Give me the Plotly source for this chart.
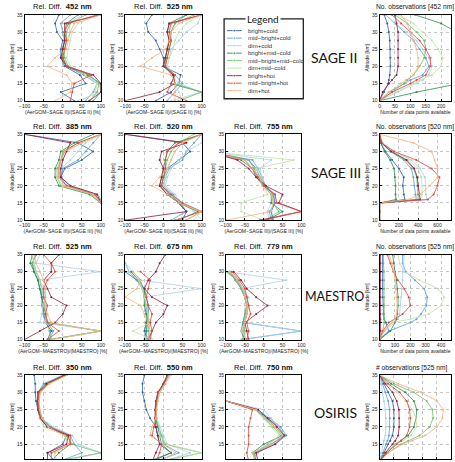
import plotly.graph_objects as go

W, H = 455, 462

# ---------------- series ----------------
series_names = ["bright+cold", "mid\u2212bright+cold", "dim+cold",
                "bright+mid\u2212cold", "mid\u2212bright+mid\u2212cold", "dim+mid\u2212cold",
                "bright+hot", "mid\u2212bright+hot", "dim+hot"]
series_colors = ["#2a5fa5", "#5aa0d2", "#a9d0e8",
                 "#2e8b4a", "#6cbf6a", "#bfe2a8",
                 "#8e1b3c", "#e0453a", "#f6b07a"]

# altitude levels [km]
alt_rd = [10, 12.5, 15, 17.5, 20, 22.5, 25, 27.5, 30, 32.5, 35]
alt_obs = [10, 12.5, 15, 16, 17.5, 20, 22.5, 25, 27.5, 30, 32.5, 35]

# ---------------- relative differences [%] ----------------
sage2_452 = [
    [30, -5, 60, 45, 5, -5, -5, 0, -15, -20, -10],
    [60, 80, 90, 55, 10, -5, 0, 5, 0, -5, 20],
    [40, 100, 95, 60, 15, 0, 5, 10, 20, 15, 50],
    [80, 100, 100, 65, 10, 0, 0, 5, 5, 10, 40],
    [70, 90, 95, 70, 15, 5, 5, 10, 10, 20, 60],
    [50, 85, 90, 60, 20, 10, 15, 20, 25, 40, 90],
    [70, 100, 100, 80, 10, -5, 0, 5, 5, 5, 100],
    [20, 25, 30, 75, 10, 0, 5, 10, 5, 15, 90],
    [-20, 20, 25, 10, -40, -20, 10, 15, 20, 30, 100],
]
sage2_525 = [
    [-20, 20, 40, 45, 0, 0, -10, -20, -40, -45, -30],
    [10, 30, 50, 30, 5, 5, 10, 15, 20, 30, 60],
    [20, 100, 40, 20, 10, 15, 20, 40, 60, 90, 100],
    [100, 100, 20, 30, 0, 5, 10, 15, 10, 15, 60],
    [40, 100, 30, 25, 5, 10, 15, 20, 20, 30, 80],
    [50, 40, 30, 30, 10, 15, 25, 30, 40, 60, 100],
    [-100, -10, 30, 25, 0, 5, 10, 15, 10, 15, 100],
    [60, 10, 20, 30, 5, 10, 15, 20, 15, 20, 100],
    [30, 30, 30, 20, -60, -30, 5, 15, 20, 40, 100],
]
sage3_385 = [
    [150, 150, 110, 80, 10, -5, 5, 50, 80, 40, -100],
    [150, 150, 110, 90, 20, -5, 0, 40, 60, 80, 100],
    [150, 150, 100, 85, 15, -10, -5, 20, 40, 60, 100],
    [150, 140, 100, 70, -10, -20, -20, -10, -5, 30, 80],
    [150, 140, 100, 75, -5, -15, -15, -5, 0, 40, 100],
    [150, 140, 100, 80, 0, -15, -10, 0, 10, 50, 100],
    [150, 150, 100, 90, 20, -5, -5, 0, 10, 20, -100],
    [150, 140, 100, 85, 10, -10, -10, -5, 5, 40, 100],
    [150, 140, 100, 80, 5, -10, -10, -5, 5, 50, 100],
]
sage3_520 = [
    [50, 60, 40, 20, -5, 0, 10, 40, 70, 50, -100],
    [20, 60, 45, 25, 0, 5, 15, 50, 60, 80, 100],
    [100, 80, 50, 30, 5, 10, 20, 40, 60, 100, 100],
    [40, 90, 40, 10, -10, -5, 0, 5, 10, 30, 100],
    [60, 100, 45, 15, -5, 0, 5, 10, 20, 40, 80],
    [80, 100, 50, 20, 0, 5, 10, 20, 30, 50, 100],
    [-100, 60, 40, 10, -10, -5, 0, -10, -5, 60, -100],
    [30, 100, 50, 20, -5, 0, 5, 5, 10, 40, 100],
    [60, 100, 40, 10, -30, -10, 10, 20, 30, 50, 100],
]
sage3_755 = [
    [25, 20, 30, 25, 5, -10, -20, -40, -150, None, None],
    [20, 15, 30, 30, 5, -5, -15, -30, -150, None, None],
    [15, 10, 20, 25, 0, -5, -10, 20, -150, None, None],
    [10, 50, 20, 20, 0, -20, -30, -60, -150, None, None],
    [5, 40, 25, 25, 5, -15, -25, -40, -150, None, None],
    [0, -60, -60, 10, 0, -10, -20, 80, -150, None, None],
    [-10, 100, 40, 50, 5, -20, -40, -70, -150, None, None],
    [0, 100, 35, 30, 0, -15, -30, -50, -150, None, None],
    [-100, 20, 25, 20, -5, -10, -30, -50, -150, None, None],
]
maestro_525 = [
    [-40, -30, -45, -50, -50, -55, -60, -65, -75, -80, -70],
    [-35, -25, -40, -50, -55, -55, -55, -60, -70, -75, -80],
    [-30, 100, -60, -55, -50, -45, -50, -60, 100, -70, -60],
    [-35, 100, -40, -45, -50, -55, -60, -65, -75, -85, -80],
    [-30, -35, -40, -45, -45, -50, -55, -60, -70, -80, -70],
    [-25, 100, -45, -40, -45, -50, -55, -60, -70, -75, -80],
    [-100, -60, -20, 0, 10, -30, -40, -50, -30, -30, -10],
    [-40, -10, -40, -45, -40, -50, -50, -40, -20, -30, -50],
    [-30, 100, -30, -40, -50, -45, -45, -50, -60, -70, -75],
]
maestro_675 = [
    [-40, -50, -45, -40, -40, -45, -50, -70, -100, None, None],
    [-45, -45, -40, -45, -45, -50, -55, -70, -90, -100, None],
    [-30, -40, -35, -45, -50, -50, 100, -60, -80, -100, None],
    [-50, -45, -45, -45, -50, -50, -50, -65, -85, None, None],
    [-40, -40, -40, -40, -45, -50, -55, -60, -80, None, None],
    [-30, -80, -35, -40, -45, -50, -55, -65, -90, None, None],
    [-40, -30, -20, 0, 10, -30, -50, -40, -20, -10, 5],
    [-35, -30, -35, -30, -40, -45, -40, -35, -60, None, None],
    [-40, -35, -40, -50, -60, -100, -70, -60, -80, None, None],
]
maestro_779 = [
    [-50, -60, -55, -50, -45, -50, -60, -75, -90, None, None],
    [-60, 100, -55, -45, -45, -50, -60, -70, -100, None, None],
    [-50, 100, -50, -50, -50, -40, -60, 60, -100, None, None],
    [-55, -55, -50, -45, -40, -45, -55, -70, -90, None, None],
    [-50, -50, -55, -50, -45, -50, -60, -75, -95, None, None],
    [-45, -60, -50, -45, -40, -45, -55, -70, -90, None, None],
    [-40, -45, -50, -20, 10, -20, -45, -60, -80, None, None],
    [-45, -40, -45, -35, -40, -45, -50, -65, -85, None, None],
    [-50, -55, -50, -45, -45, -50, -55, -70, -90, None, None],
]
osiris_350 = [
    [-20, -40, 0, 10, -40, -60, -65, -70, -72, -72, -75],
    [-10, 50, 30, 20, -30, -55, -62, -65, -65, -50, 0],
    [0, 100, 40, 25, -25, -55, -60, -62, -60, -40, 10],
    [-30, -10, 20, 15, -40, -58, -65, -66, -65, -45, 5],
    [-20, 100, 25, 10, -35, -55, -62, -64, -62, -40, 8],
    [-10, -30, 15, 5, -50, -60, -62, -64, -60, -38, 10],
    [-40, -40, 10, 15, -40, -58, -64, -66, -64, -42, 5],
    [-30, -30, 20, 20, -35, -56, -62, -64, -62, -38, 8],
    [-20, -20, 15, 5, -38, -55, -60, -62, -58, -35, 12],
]
osiris_550 = [
    [-30, 20, -10, -15, -20, -35, -45, -50, -55, -55, -50],
    [-20, 40, 0, -5, -15, -20, -20, -18, -12, 0, 15],
    [0, 70, 10, 0, -10, -18, -18, -15, -10, 5, 20],
    [-40, 20, -5, -10, -15, -20, -20, -18, -14, 0, 10],
    [-10, 100, 5, -5, -12, -20, -20, -18, -13, 2, 15],
    [0, 100, 10, -10, -10, -18, -18, -15, -10, 5, 18],
    [-30, -20, -10, -15, -20, -22, -22, -20, -15, 0, 10],
    [-20, -10, -5, -30, -25, -20, -20, -18, -14, 2, 12],
    [-10, 30, 0, -35, -30, -20, -18, -15, -10, 5, 15],
]
osiris_750 = [
    [-20, -25, 20, 55, 40, 10, -20, -100, None, None, None],
    [-25, -20, 30, 60, 45, 15, -15, -100, None, None, None],
    [-30, -15, 25, 55, 40, 20, 0, -100, None, None, None],
    [-20, -30, 0, 50, 30, 5, -20, -100, None, None, None],
    [-25, -25, 10, 45, 25, 0, -20, -100, None, None, None],
    [-30, -20, 15, 40, 20, 0, -25, -100, None, None, None],
    [-15, -20, 30, 55, 35, 10, -15, -100, None, None, None],
    [-40, -45, -40, -40, -40, -35, -30, -100, None, None, None],
    [-20, -30, 20, 50, 30, 5, -20, -100, None, None, None],
]

# ---------------- number of observations ----------------
obs_sage2 = [
    [0, 15, 28, 30, 33, 35, 35, 35, 33, 30, 25, 15],
    [0, 30, 80, 100, 140, 160, 150, 130, 110, 80, 50, 20],
    [0, 60, 120, 140, 160, 170, 160, 140, 120, 90, 50, 20],
    [0, 120, 260, 280, 300, 320, 320, 300, 280, 250, 200, 115],
    [0, 40, 80, 90, 110, 130, 145, 150, 145, 120, 90, 50],
    [0, 50, 110, 130, 170, 200, 205, 190, 170, 140, 110, 60],
    [0, 10, 30, 40, 55, 60, 60, 60, 60, 60, 55, 50],
    [0, 40, 100, 120, 150, 165, 165, 150, 130, 100, 70, 40],
    [0, 30, 70, 85, 110, 125, 125, 120, 110, 100, 90, 70],
]
obs_sage3 = [
    [0, 0, 0, 260, 250, 240, 250, 200, 130, 60, 10, 0],
    [0, 0, 0, 380, 370, 360, 350, 330, 250, 110, 20, 0],
    [0, 0, 0, 490, 480, 475, 470, 420, 330, 150, 30, 0],
    [0, 0, 0, 170, 165, 165, 160, 150, 110, 50, 10, 0],
    [0, 0, 0, 400, 395, 390, 385, 350, 270, 120, 20, 0],
    [0, 0, 0, 420, 440, 440, 430, 400, 300, 130, 25, 0],
    [0, 0, 0, 420, 410, 400, 390, 360, 280, 120, 20, 0],
    [0, 0, 0, 500, 560, 600, 620, 540, 380, 150, 20, 0],
    [0, 0, 0, 300, 420, 520, 600, 600, 570, 540, 350, 0],
]
obs_maestro = [
    [0, 60, 40, 30, 25, 22, 20, 20, 20, 20, 20, 20],
    [0, 60, 200, 240, 270, 305, 310, 290, 230, 170, 150, 150],
    [0, 30, 100, 120, 130, 135, 140, 145, 150, 150, 155, 160],
    [0, 70, 100, 110, 115, 120, 120, 115, 110, 100, 90, 85],
    [0, 20, 30, 30, 30, 30, 30, 30, 30, 28, 25, 25],
    [0, 20, 80, 200, 320, 400, 420, 380, 260, 160, 130, 120],
    [0, 5, 5, 5, 5, 5, 5, 5, 5, 5, 5, 5],
    [0, 20, 60, 100, 150, 200, 190, 160, 120, 90, 70, 50],
    [0, 30, 80, 100, 110, 115, 110, 105, 100, 95, 80, 60],
]
obs_osiris = [
    [0, 30, 60, 75, 90, 100, 100, 100, 90, 60, 25, 0],
    [0, 20, 45, 55, 65, 70, 72, 70, 60, 40, 15, 0],
    [0, 10, 25, 30, 40, 45, 45, 40, 30, 20, 10, 0],
    [0, 50, 110, 150, 200, 240, 255, 260, 240, 180, 80, 0],
    [0, 60, 150, 200, 280, 350, 375, 370, 330, 240, 100, 0],
    [0, 40, 110, 160, 220, 260, 255, 230, 180, 120, 50, 0],
    [0, 40, 90, 110, 130, 137, 137, 135, 120, 90, 40, 0],
    [0, 50, 120, 150, 190, 210, 215, 210, 190, 140, 60, 0],
    [0, 60, 160, 230, 320, 400, 440, 445, 400, 290, 130, 0],
]

instruments = ["SAGE II", "SAGE III", "MAESTRO", "OSIRIS"]
rd_ticks = [-100, -50, 0, 50, 100]
alt_ticks = [10, 15, 20, 25, 30, 35]

# ---------------- layout geometry (pixels) ----------------
cols = [(19, 97), (122, 200), (225, 302), (382, 455)]
rows = [(12, 99), (133, 220), (255, 341), (377, 462)]

def fx(p):
    return p / W

def fy(p):
    return 1 - p / H

panels = [
    (sage2_452, 0, 0, "rd", "452 nm", "(AerGOM\u2212SAGE II)/(SAGE II) [%]"),
    (sage2_525, 0, 1, "rd", "525 nm", "(AerGOM\u2212SAGE II)/(SAGE II) [%]"),
    (obs_sage2, 0, 3, "obs", "No. observations [452 nm]", "Number of data points available"),
    (sage3_385, 1, 0, "rd", "385 nm", "(AerGOM\u2212SAGE III)/(SAGE III) [%]"),
    (sage3_520, 1, 1, "rd", "520 nm", "(AerGOM\u2212SAGE III)/(SAGE III) [%]"),
    (sage3_755, 1, 2, "rd", "755 nm", "(AerGOM\u2212SAGE III)/(SAGE III) [%]"),
    (obs_sage3, 1, 3, "obs", "No. observations [520 nm]", "Number of data points available"),
    (maestro_525, 2, 0, "rd", "525 nm", "(AerGOM\u2212MAESTRO)/(MAESTRO) [%]"),
    (maestro_675, 2, 1, "rd", "675 nm", "(AerGOM\u2212MAESTRO)/(MAESTRO) [%]"),
    (maestro_779, 2, 2, "rd", "779 nm", "(AerGOM\u2212MAESTRO)/(MAESTRO) [%]"),
    (obs_maestro, 2, 3, "obs", "No. observations [525 nm]", "Number of data points available"),
    (osiris_350, 3, 0, "rd", "350 nm", None),
    (osiris_550, 3, 1, "rd", "550 nm", None),
    (osiris_750, 3, 2, "rd", "750 nm", None),
    (obs_osiris, 3, 3, "obs", "# observations [525 nm]", None),
]
obs_xrange = {0: [0, 232], 1: [0, 740], 2: [0, 465], 3: [0, 500]}
obs_dtick = {0: 50, 1: 200, 2: 100, 3: 100}

tickfont = dict(size=5, family="Liberation Sans", color="#222")
titlefont = dict(size=5, family="Liberation Sans", color="#222")

fig = go.Figure()
layout = {}
annotations = []

for k, (data, r, c, kind, label, xtitle) in enumerate(panels):
    n = k + 1
    xa = "xaxis" if n == 1 else f"xaxis{n}"
    ya = "yaxis" if n == 1 else f"yaxis{n}"
    xref = "x" if n == 1 else f"x{n}"
    yref = "y" if n == 1 else f"y{n}"
    x0, x1 = cols[c]
    y0, y1 = rows[r]
    common = dict(showline=True, linecolor="black", linewidth=1, mirror=True,
                  ticks="inside", ticklen=2, tickcolor="black",
                  showgrid=True, gridcolor="#c4c4c4", griddash="dot", gridwidth=0.5,
                  zeroline=False, tickfont=tickfont, fixedrange=True)
    xextra = dict(showticklabels=xtitle is not None)
    if xtitle is not None:
        xextra["title"] = dict(text=xtitle, font=titlefont, standoff=1)
    if kind == "rd":
        layout[xa] = dict(domain=[fx(x0), fx(x1)], range=[-100, 100], anchor=yref,
                          tickvals=rd_ticks, **xextra, **common)
        alts = alt_rd
    else:
        layout[xa] = dict(domain=[fx(x0), fx(x1)], range=obs_xrange[r], anchor=yref,
                          dtick=obs_dtick[r], tick0=0, **xextra, **common)
        alts = alt_obs
    yr = [10, 35] if r < 3 else [35 - (462 - 377) / 3.5, 35]
    layout[ya] = dict(domain=[fy(y1), fy(y0)], range=yr, anchor=xref, tickvals=alt_ticks,
                      title=dict(text="Altitude [km]", font=titlefont, standoff=2), **common)
    for i, vals in enumerate(data):
        fig.add_trace(go.Scatter(x=vals, y=alts, xaxis=xref, yaxis=yref,
                                 mode="lines+markers", showlegend=False,
                                 line=dict(color=series_colors[i], width=0.8),
                                 marker=dict(size=2, color=series_colors[i]),
                                 connectgaps=False, hoverinfo="skip"))
    if kind == "rd":
        annotations.append(dict(
            text=f"Rel. Diff.  <b>{label}</b>", xref="paper", yref="paper",
            x=fx((x0 + x1) / 2), y=fy(y0 - 1.5), xanchor="center", yanchor="bottom",
            showarrow=False, font=dict(size=7.5, family="Liberation Sans", color="#111")))
    else:
        annotations.append(dict(
            text=label, xref="paper", yref="paper",
            x=fx(x0 - 6), y=fy(y0 - 1.5), xanchor="left", yanchor="bottom",
            showarrow=False, font=dict(size=6.7, family="Liberation Sans", color="#111")))

# instrument labels
inst_pos = [(335, 55), (337, 172), (336, 297), (337, 415)]
inst_size = [14, 14, 12.5, 14]
for name, (px, py), sz in zip(instruments, inst_pos, inst_size):
    annotations.append(dict(text=name, xref="paper", yref="paper", x=fx(px), y=fy(py),
                            xanchor="center", yanchor="middle", showarrow=False,
                            font=dict(size=sz, family="Lato", color="#111")))

# ---------------- legend (drawn in its own axes) ----------------
nl = len(panels) + 1
lx0, lx1, ly0, ly1 = 223, 304, 16, 97
layout[f"xaxis{nl}"] = dict(domain=[fx(lx0), fx(lx1)], range=[lx0, lx1], visible=False,
                            anchor=f"y{nl}", fixedrange=True)
layout[f"yaxis{nl}"] = dict(domain=[fy(ly1), fy(ly0)], range=[ly1, ly0], visible=False,
                            anchor=f"x{nl}", fixedrange=True)
for i, (name, col) in enumerate(zip(series_names, series_colors)):
    yy = 28 + 7.6 * i
    fig.add_trace(go.Scatter(x=[226, 233.5, 241], y=[yy, yy, yy], xaxis=f"x{nl}", yaxis=f"y{nl}",
                             mode="lines+markers", showlegend=False, hoverinfo="skip",
                             line=dict(color=col, width=0.9),
                             marker=dict(size=[0, 2.5, 0], color=col)))
    annotations.append(dict(text=name, xref=f"x{nl}", yref=f"y{nl}", x=245, y=yy,
                            xanchor="left", yanchor="middle", showarrow=False,
                            font=dict(size=6, family="Liberation Sans", color="#333")))

shapes = [dict(type="rect", xref="paper", yref="paper", x0=fx(lx0), x1=fx(lx1),
               y0=fy(ly1), y1=fy(ly0), line=dict(color="#222", width=1.3))]
annotations.append(dict(text="Legend", xref="paper", yref="paper", x=fx(263), y=fy(ly0),
                        xanchor="center", yanchor="middle", showarrow=False,
                        bgcolor="white", borderpad=1,
                        font=dict(size=10, family="Lato", color="#111")))

fig.update_layout(
    width=W, height=H, margin=dict(l=0, r=0, t=0, b=0),
    paper_bgcolor="white", plot_bgcolor="white",
    annotations=annotations, shapes=shapes, showlegend=False,
    **layout)

fig.write_html("out.html")
